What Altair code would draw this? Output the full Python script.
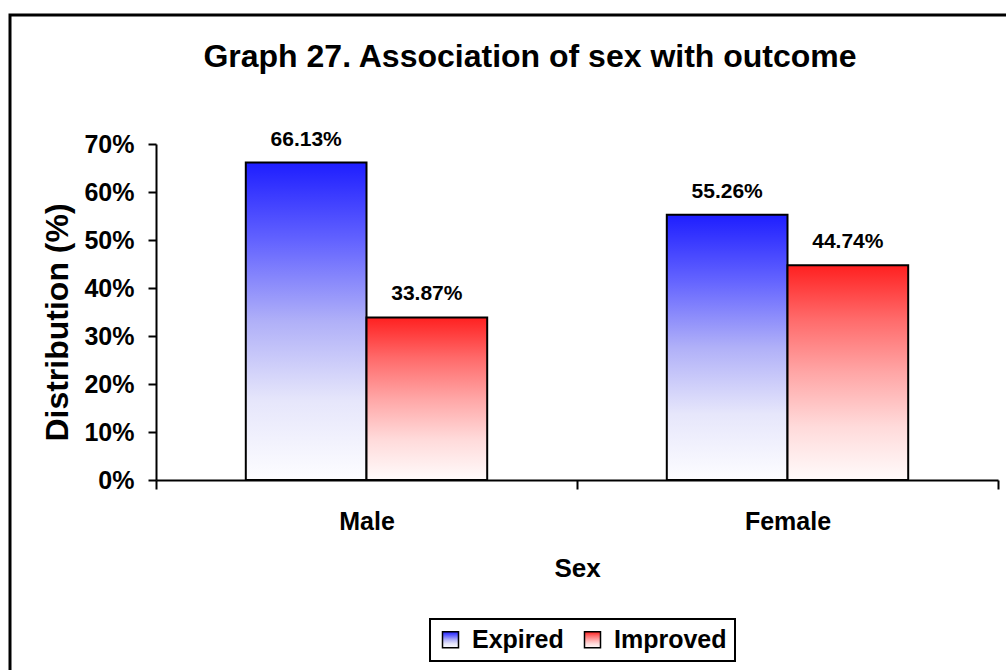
import altair as alt
import pandas as pd

# Outcome distribution by sex (percent of patients)
sexes = ["Male", "Female"]
outcomes = ["Expired", "Improved"]
expired = [66.13, 55.26]
improved = [33.87, 44.74]

rows = []
for s, e, i in zip(sexes, expired, improved):
    rows.append({"Sex": s, "Outcome": "Expired", "Value": e})
    rows.append({"Sex": s, "Outcome": "Improved", "Value": i})
df = pd.DataFrame(rows)

FONT = "Liberation Sans"


def vertical_gradient(stops):
    parts = ", ".join("{offset: %s, color: '%s'}" % (o, c) for o, c in stops)
    return alt.ExprRef(
        expr="{gradient: 'linear', x1: 0, y1: 0, x2: 0, y2: 1, stops: [%s]}" % parts
    )


blue_fade = vertical_gradient(
    [(0, "#1e1eff"), (0.25, "#6464ff"), (0.5, "#b0b0f8"), (0.75, "#e6e6fb"), (1, "#fdfdff")]
)
red_fade = vertical_gradient(
    [(0, "#ff2020"), (0.25, "#ff6a6a"), (0.5, "#ffa6a6"), (0.75, "#ffdada"), (1, "#fffbfb")]
)

base = alt.Chart(df).encode(
    x=alt.X(
        "Sex:N",
        sort=sexes,
        scale=alt.Scale(paddingInner=0, paddingOuter=0),
        axis=alt.Axis(
            title="Sex",
            labelAngle=0,
            tickBand="extent",
            tickSize=9,
            tickWidth=2,
            tickColor="black",
            domainColor="black",
            domainWidth=2,
            labelFontSize=25,
            labelFontWeight="bold",
            labelColor="black",
            labelPadding=20,
            titleFontSize=26,
            titleFontWeight="bold",
            titleColor="black",
            titlePadding=21,
        ),
    ),
    xOffset=alt.XOffset(
        "Outcome:N",
        scale=alt.Scale(domain=outcomes, paddingInner=0, paddingOuter=0.744),
    ),
    y=alt.Y(
        "Value:Q",
        scale=alt.Scale(domain=[0, 70]),
        axis=alt.Axis(
            title="Distribution (%)",
            values=[0, 10, 20, 30, 40, 50, 60, 70],
            labelExpr="datum.value + '%'",
            grid=False,
            tickSize=8,
            tickWidth=2,
            tickColor="black",
            domainColor="black",
            domainWidth=2,
            labelFontSize=25,
            labelFontWeight="bold",
            labelColor="black",
            labelPadding=14,
            titleFontSize=32,
            titleFontWeight="bold",
            titleColor="black",
            titlePadding=9,
            titleY=178,
        ),
    ),
)

bars = base.mark_bar(stroke="black", strokeWidth=2).encode(
    color=alt.Color(
        "Outcome:N",
        scale=alt.Scale(domain=outcomes, range=[blue_fade, red_fade]),
        legend=alt.Legend(
            title=None,
            orient="none",
            legendX=274,
            legendY=475,
            direction="horizontal",
            symbolType="square",
            symbolSize=256,
            symbolStrokeColor="black",
            symbolStrokeWidth=1.5,
            labelFontSize=25,
            labelFontWeight="bold",
            labelColor="black",
            labelOffset=9,
            columnPadding=16,
            padding=8,
            strokeColor="black",
        ),
    )
)

labels = base.mark_text(
    fontSize=21, fontWeight="bold", color="black", baseline="alphabetic", dy=-17
).transform_calculate(
    label="format(datum.Value, '.2f') + '%'"
).encode(text="label:N")

# outer frame around the whole figure
frame = alt.Chart(alt.Data(values=[{}])).mark_rect(
    fillOpacity=0, stroke="black", strokeWidth=3
).encode(
    x=alt.value(-146), x2=alt.value(900), y=alt.value(-129), y2=alt.value(560)
)

chart = (
    alt.layer(frame, bars, labels)
    .properties(
        width=842,
        height=336,
        autosize=alt.AutoSizeParams(type="none"),
        padding={"left": 156, "top": 144, "right": 8, "bottom": 190},
        title=alt.TitleParams(
            "Graph 27. Association of sex with outcome",
            fontSize=32,
            fontWeight="bold",
            color="black",
            anchor="middle",
            dx=-47,
            baseline="alphabetic",
            offset=-85,
        ),
    )
    .configure(font=FONT)
    .configure_view(stroke=None)
    .configure_legend(strokeWidth=2)
)

chart.save("out.html", embed_options={"renderer": "svg", "actions": False})
